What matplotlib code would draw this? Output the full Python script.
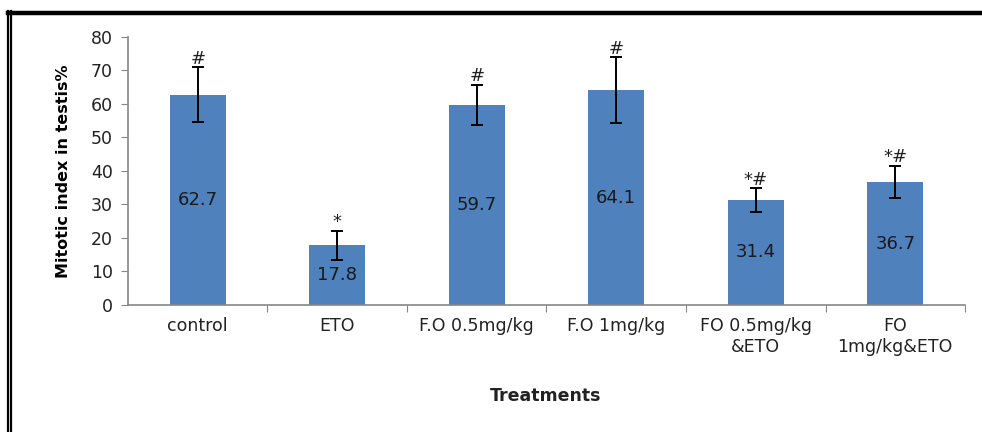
import matplotlib.pyplot as plt
from matplotlib.lines import Line2D

labels = ["control", "ETO", "F.O 0.5mg/kg", "F.O 1mg/kg",
          "FO 0.5mg/kg\n&ETO", "FO\n1mg/kg&ETO"]
values = [62.7, 17.8, 59.7, 64.1, 31.4, 36.7]
errors = [8.2, 4.3, 6.0, 9.8, 3.5, 4.9]
marks = ["#", "*", "#", "#", "*#", "*#"]

fig = plt.figure(figsize=(9.82, 4.32), dpi=100)
ax = fig.add_axes([0.1303, 0.294, 0.8524, 0.6204])

x = list(range(len(labels)))
ax.bar(x, values, width=0.4, color="#4F81BD", zorder=2)
ax.errorbar(x, values, yerr=errors, fmt="none", ecolor="black",
            elinewidth=1.4, capsize=4, capthick=1.4, zorder=3)

for xi, v, e, m in zip(x, values, errors, marks):
    ax.text(xi, v / 2, f"{v}", ha="center", va="center", fontsize=13,
            color="#1a1a1a", zorder=4)
    ax.annotate(m, (xi, v + e), xytext=(0, 2.5), textcoords="offset points",
                ha="center", va="baseline", fontsize=13, color="#222222")

ax.set_xlim(-0.5, 5.5)
ax.set_ylim(0, 80)
ax.set_yticks(range(0, 81, 10))
ax.set_xticks([i + 0.5 for i in range(6)])
ax.set_xticklabels([])
ax.set_xticks(x, minor=True)
ax.set_xticklabels(labels, minor=True, fontsize=12.5, color="#222222")
ax.tick_params(axis="x", which="minor", length=0, pad=9)
ax.tick_params(axis="x", which="major", length=5, color="#868686", direction="out")
ax.tick_params(axis="y", length=5, color="#868686", labelsize=12.5,
               labelcolor="#222222", pad=6)

for s in ["top", "right"]:
    ax.spines[s].set_visible(False)
for s in ["left", "bottom"]:
    ax.spines[s].set_color("#868686")
    ax.spines[s].set_linewidth(1.2)

ax.set_ylabel("Mitotic index in testis%", fontsize=11.5, fontweight="bold", labelpad=14)
fig.text(0.556, 0.083, "Treatments", ha="center", va="center",
         fontsize=12.5, fontweight="bold", color="#222222")

# page border
fig.add_artist(Line2D([7.5 / 982, 1], [1 - 12.5 / 432] * 2, color="black", lw=3.2,
                      transform=fig.transFigure))
for xp in [7.5, 11.0]:
    fig.add_artist(Line2D([xp / 982] * 2, [0, 1 - 11 / 432], color="black", lw=1.6,
                          transform=fig.transFigure))

fig.savefig("out.png", dpi=100)
